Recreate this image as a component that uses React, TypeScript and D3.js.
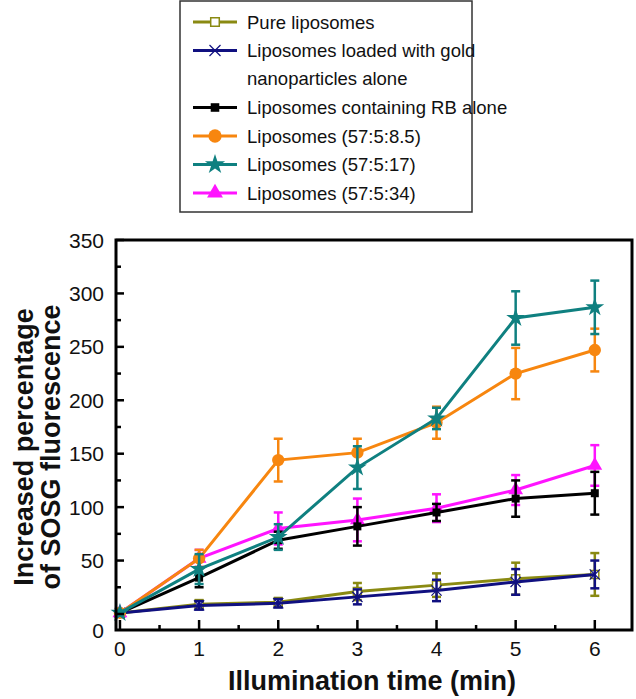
import * as d3 from "d3";

const width = 636;
const height = 699;

// frame of the plot area
const left = 116;
const right = 632;
const top = 240;
const bottom = 630;

const times = [0, 1, 2, 3, 4, 5, 6];

const pureMean = [1, 9, 11, 21, 27, 33, 37];
const pureErr = [2, 4, 4, 8, 11, 15, 20];
const goldMean = [1, 8, 10, 16, 22, 30, 37];
const goldErr = [2, 4, 4, 7, 10, 12, 13];
const rbMean = [1, 34, 69, 82, 95, 108, 113];
const rbErr = [2, 9, 8, 18, 8, 17, 20];
const l85Mean = [1, 52, 144, 151, 179, 225, 247];
const l85Err = [2, 8, 20, 13, 15, 24, 20];
const l17Mean = [1, 42, 72, 137, 183, 277, 287];
const l17Err = [2, 14, 12, 20, 10, 25, 25];
const l34Mean = [1, 52, 80, 88, 99, 116, 139];
const l34Err = [2, 8, 15, 20, 13, 14, 19];

const yTicks = [0, 50, 100, 150, 200, 250, 300, 350];
const yMinor = [25, 75, 125, 175, 225, 275, 325];
const xTicks = [0, 1, 2, 3, 4, 5, 6];
const xMinor = [0.5, 1.5, 2.5, 3.5, 4.5, 5.5];

type Series = {
  label: string[];
  color: string;
  symbol: d3.SymbolType;
  size: number;
  open?: boolean;
  stroke?: boolean;
  mean: number[];
  err: number[];
};

const series: Series[] = [
  { label: ["Pure liposomes"], color: "#8a8a12", symbol: d3.symbolSquare, size: 64, open: true, mean: pureMean, err: pureErr },
  { label: ["Liposomes loaded with gold", "nanoparticles alone"], color: "#101080", symbol: d3.symbolX, size: 70, stroke: true, mean: goldMean, err: goldErr },
  { label: ["Liposomes containing RB alone"], color: "#000000", symbol: d3.symbolSquare, size: 64, mean: rbMean, err: rbErr },
  { label: ["Liposomes (57:5:8.5)"], color: "#f7860f", symbol: d3.symbolCircle, size: 120, mean: l85Mean, err: l85Err },
  { label: ["Liposomes (57:5:17)"], color: "#0f8080", symbol: d3.symbolStar, size: 110, mean: l17Mean, err: l17Err },
  { label: ["Liposomes (57:5:34)"], color: "#ff14ff", symbol: d3.symbolTriangle, size: 95, mean: l34Mean, err: l34Err },
];

const drawOrder = [0, 1, 5, 2, 3, 4];

const x = d3.scaleLinear().domain([-0.05, 6.47]).range([left, right]);
const y = d3.scaleLinear().domain([-15, 350]).range([bottom, top]);

const font = "'Liberation Sans', Arial, sans-serif";

const Marker = ({ s, cx, cy, k = 1 }: { s: Series; cx: number; cy: number; k?: number }) => {
  const p = d3.symbol().type(s.symbol).size(s.size * k)()!;
  if (s.stroke) {
    return <path d={p} transform={`translate(${cx},${cy})`} fill="none" stroke={s.color} strokeWidth={1.2} />;
  }
  if (s.open) {
    return <path d={p} transform={`translate(${cx},${cy})`} fill="#fff" stroke={s.color} strokeWidth={1.5} />;
  }
  return <path d={p} transform={`translate(${cx},${cy})`} fill={s.color} />;
};

const App = () => {
  const line = d3
    .line<number>()
    .x((_, i) => x(times[i]))
    .y((d) => y(d));

  // legend rows
  const legendRows: { s: Series; y: number }[] = [];
  let ly = 22;
  series.forEach((s) => {
    legendRows.push({ s, y: ly });
    ly += 28.5 * s.label.length;
  });

  return (
    <svg width={width} height={height} style={{ position: "absolute", left: 0, top: 0 }} fontFamily={font}>
      <rect width={width} height={height} fill="#fff" />

      {/* legend */}
      <rect x={180} y={1} width={292} height={211} fill="#fff" stroke="#333" strokeWidth={1.5} />
      {legendRows.map(({ s, y: ry }, i) => (
        <g key={i}>
          <line x1={193} x2={237} y1={ry} y2={ry} stroke={s.color} strokeWidth={3} />
          <Marker s={s} cx={215} cy={ry} k={1.15} />
          {s.label.map((t, j) => (
            <text key={j} x={247} y={ry + j * 27.5} dy="0.36em" fontSize={18.5} fill="#111">
              {t}
            </text>
          ))}
        </g>
      ))}

      {/* data */}
      {drawOrder.map((k) => {
        const s = series[k];
        return (
          <g key={k}>
            <path d={line(s.mean)!} fill="none" stroke={s.color} strokeWidth={3} />
            {s.mean.map((m, i) => {
              const cx = x(times[i]);
              const y1 = y(m + s.err[i]);
              const y2 = y(m - s.err[i]);
              return (
                <g key={i} stroke={s.color} strokeWidth={2.5}>
                  <line x1={cx} x2={cx} y1={y1} y2={y2} />
                  <line x1={cx - 4.5} x2={cx + 4.5} y1={y1} y2={y1} />
                  <line x1={cx - 4.5} x2={cx + 4.5} y1={y2} y2={y2} />
                </g>
              );
            })}
            {s.mean.map((m, i) => (
              <Marker key={"m" + i} s={s} cx={x(times[i])} cy={y(m)} />
            ))}
          </g>
        );
      })}

      {/* frame */}
      <rect x={left} y={top} width={right - left} height={bottom - top} fill="none" stroke="#000" strokeWidth={3} />

      {/* y ticks */}
      {yTicks.map((t) => (
        <g key={t}>
          <line x1={left} x2={left + 8} y1={y(t)} y2={y(t)} stroke="#000" strokeWidth={2.5} />
          <text
            x={104}
            y={t === 0 ? y.range()[0] : y(t)}
            dy="0.36em"
            textAnchor="end"
            fontSize={21}
            fill="#111"
          >
            {t}
          </text>
        </g>
      ))}
      {yMinor.map((t) => (
        <line key={t} x1={left} x2={left + 5} y1={y(t)} y2={y(t)} stroke="#000" strokeWidth={2.5} />
      ))}

      {/* x ticks */}
      {xTicks.map((t) => (
        <g key={t}>
          <line x1={x(t)} x2={x(t)} y1={bottom} y2={bottom - 10} stroke="#000" strokeWidth={2.5} />
          <text x={x(t)} y={648} dy="0.36em" textAnchor="middle" fontSize={21} fill="#111">
            {t}
          </text>
        </g>
      ))}
      {xMinor.map((t) => (
        <line key={t} x1={x(t)} x2={x(t)} y1={bottom} y2={bottom - 5} stroke="#000" strokeWidth={2.5} />
      ))}

      {/* axis titles */}
      <text x={(left + right) / 2 - 2} y={680} dy="0.36em" textAnchor="middle" fontSize={27} fontWeight="bold" fill="#111">
        Illumination time (min)
      </text>
      <g transform={`translate(23, 447) rotate(-90)`}>
        <text x={0} y={0} dy="0.36em" textAnchor="middle" fontSize={27} fontWeight="bold" fill="#111">
          Increased percentage
        </text>
        <text x={0} y={27} dy="0.36em" textAnchor="middle" fontSize={27} fontWeight="bold" fill="#111">
          of SOSG fluorescence
        </text>
      </g>
    </svg>
  );
};

export default App;
